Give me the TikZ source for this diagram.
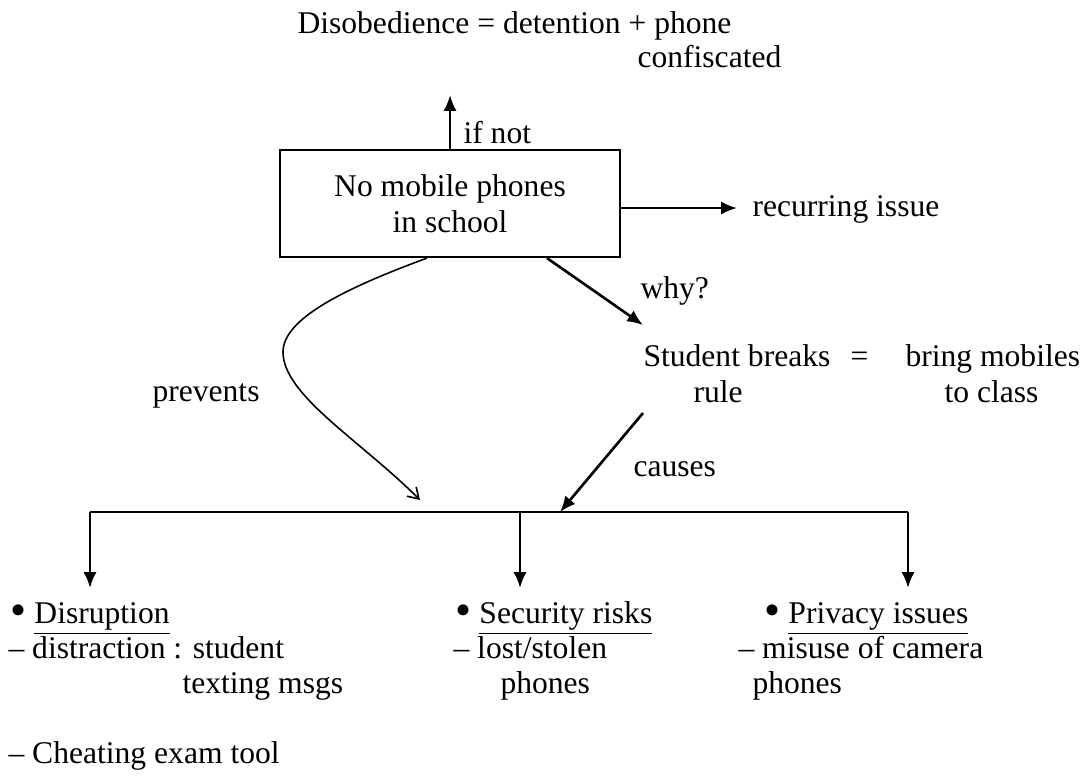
\documentclass[tikz,border=0pt]{standalone}
\usepackage{fontspec}
\setmainfont{Liberation Serif}
\usetikzlibrary{arrows.meta, positioning}
\def\pxunit{0.01335cm}
\def\bul{\raisebox{-0.15ex}{\scalebox{1.45}{\textbullet}}}

\begin{document}
\begin{tikzpicture}[x=\pxunit, y=-\pxunit, font=\fontsize{12}{13.8}\selectfont,
    >={Latex[length=6pt,width=5pt]}]
    \tikzstyle{txt}=[inner sep=0pt, anchor=base west]
    \tikzstyle{flow}=[->, line width=1pt]
    \tikzstyle{rulebox}=[draw, line width=0.8pt, minimum width=4.54cm, minimum height=1.43cm, align=center, inner sep=2pt]

    \useasboundingbox (0,0) rectangle (1085,776);

    % Consequence on top
    \node[txt] (disob) at (297,33) {Disobedience = detention + phone};
    \node[txt] (confisc) at (637,67) {confiscated};

    % The rule itself
    \node[rulebox] (rule) at (450,203.5) {No mobile phones\\in school};
    \coordinate (ifup) at (450,95);
    \draw[flow] (rule.north) -- (ifup);
    \node[txt] (ifnot) at (463,143) {if not};

    \coordinate (recur) at (737,208);
    \draw[flow] (rule.east |- recur) -- (recur);
    \node[txt] (issue) at (752,216) {recurring issue};

    % Why the rule is broken
    \node[txt] (student) at (643,366) {Student breaks};
    \node[txt] (eq) at (850,366) {=};
    \node[txt] (bring) at (905,366) {bring mobiles};
    \node[txt] (rulew) at (693,402) {rule};
    \node[txt] (toclass) at (944,402) {to class};
    \coordinate (whyend) at (643,325);
    \draw[flow] (rule.south -| 547,0) -- (whyend);
    \node[txt] (why) at (640,298) {why?};

    % Prevents / causes
    \coordinate (prevend) at (420,500);
    \draw[line width=0.6pt, -{Straight Barb[length=4pt,width=5pt]}] (rule.south -| 427,0)
        .. controls (340,290) and (283,320) .. (283,352)
        .. controls (283,395) and (360,440) .. (prevend);
    \node[txt] (prevents) at (152,401) {prevents};

    \coordinate (causestart) at (643,413);
    \coordinate (causeend) at (560,512);
    \draw[flow] (causestart) -- (causeend);
    \node[txt] (causes) at (633,476) {causes};

    % Branch bar and the three problems
    \coordinate (barL) at (90,512);
    \coordinate (barR) at (908,512);
    \draw[line width=1pt] (barL) -- (barR);
    \foreach \name / \x in {d1/90, d2/520, d3/908}
    {
        \coordinate (\name) at (\x,588);
        \draw[flow] (\x,512) -- (\name);
    }

    \node[txt] (disrupt) at (10,623) {\bul\ \underline{Disruption}};
    \node[txt] (distract) at (8,658) {-- distraction : student};
    \node[txt] (texting) at (182,693) {texting msgs};
    \node[txt] (cheat) at (8,763) {-- Cheating exam tool};

    \node[txt] (security) at (455,623) {\bul\ \underline{Security risks}};
    \node[txt] (lost) at (453,658) {-- lost/stolen};
    \node[txt] (phones1) at (500,693) {phones};

    \node[txt] (privacy) at (764,623) {\bul\ \underline{Privacy issues}};
    \node[txt] (misuse) at (738,658) {-- misuse of camera};
    \node[txt] (phones2) at (752,693) {phones};
\end{tikzpicture}
\end{document}
